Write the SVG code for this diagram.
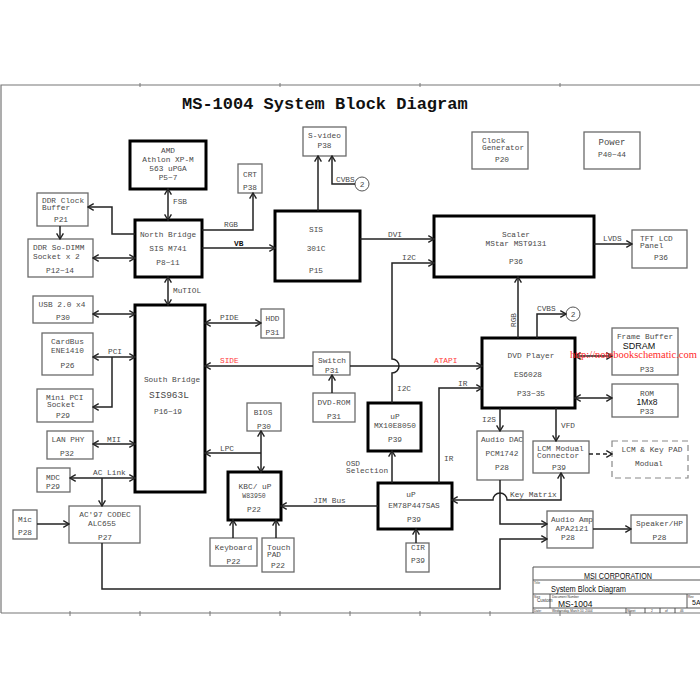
<svg xmlns="http://www.w3.org/2000/svg" width="700" height="700" viewBox="0 0 700 700">
<defs>
<style>
.b{fill:#fff;stroke:#6a6a6a;stroke-width:1.3}
.k{fill:#fff;stroke:#000;stroke-width:3}
.d{fill:#fff;stroke:#888;stroke-width:1.2;stroke-dasharray:6 4}
text{font-family:"Liberation Mono","DejaVu Sans Mono",monospace;font-size:7.8px;fill:#4a4a4a}
.m{text-anchor:middle}
.w{fill:none;stroke:#222;stroke-width:1.5}
.e{marker-end:url(#a)}
.s{marker-start:url(#a)}
.r{fill:#ff3b3b}
.ar{font-family:"Liberation Sans",Arial,sans-serif;fill:#111}
.tb{fill:none;stroke:#555;stroke-width:1}
.tiny{font-family:"Liberation Sans",Arial,sans-serif;font-size:3.2px;fill:#333}
</style>
<marker id="a" viewBox="0 0 8 8" refX="7.2" refY="4" markerWidth="8" markerHeight="8" markerUnits="userSpaceOnUse" orient="auto-start-reverse"><path d="M1.5,0.6 L7.2,4 L1.5,7.4" fill="none" stroke="#222" stroke-width="1.4"/></marker>
</defs>
<rect width="700" height="700" fill="#fff"/>
<g id="frame">
<path d="M1,613 V85 H702 M1,613 H702" fill="none" stroke="#777" stroke-width="1.2"/>
<path d="M140,83 V87 M280,83 V87 M420,83 V87 M560,83 V87 M70,611 V616 M140,611 V616 M210,611 V616 M280,611 V616 M350,611 V616 M420,611 V616 M490,611 V616 M560,611 V616 M630,611 V616" stroke="#777" stroke-width="1"/>
<text x="182" y="109" style="font-size:17px;font-weight:bold;fill:#111">MS-1004 System Block Diagram</text>
</g>

<g id="n-amd"><rect class="k" x="130" y="141" width="76" height="48"/><text class="m" x="168" y="153">AMD</text><text class="m" x="168" y="162">Athlon XP-M</text><text class="m" x="168" y="171">563 uPGA</text><text class="m" x="168" y="180">P5~7</text></g>
<g id="n-ddrclk"><rect class="b" x="37" y="193" width="51" height="33"/><text x="42" y="203">DDR Clock</text><text x="42" y="210">Buffer</text><text class="m" x="61" y="222">P21</text></g>
<g id="n-dimm"><rect class="b" x="28" y="239" width="65" height="38"/><text x="33" y="250">DDR So-DIMM</text><text x="33" y="259">Socket x 2</text><text class="m" x="60" y="273">P12~14</text></g>
<g id="n-nb"><rect class="k" x="135" y="220" width="67" height="57"/><text class="m" x="168" y="237">North Bridge</text><text class="m" x="168" y="251">SIS M741</text><text class="m" x="168" y="265">P8~11</text></g>
<g id="n-crt"><rect class="b" x="238" y="164" width="24" height="29"/><text class="m" x="250" y="177">CRT</text><text class="m" x="250" y="190">P38</text></g>
<g id="n-svideo"><rect class="b" x="303" y="127" width="43" height="29"/><text class="m" x="324.5" y="138">S-video</text><text class="m" x="324.5" y="148">P38</text></g>
<g id="n-sis"><rect class="k" x="275" y="211" width="85" height="70"/><text class="m" x="316" y="232">SIS</text><text class="m" x="316" y="251">301C</text><text class="m" x="316" y="273">P15</text></g>
<g id="n-clkgen"><rect class="b" x="472" y="132" width="56" height="37"/><text x="482" y="143">Clock</text><text x="482" y="150">Generator</text><text class="m" x="502" y="162">P20</text></g>
<g id="n-power"><rect class="b" x="584" y="132" width="56" height="37"/><text class="m" x="612" y="145" style="font-size:9px">Power</text><text class="m" x="612" y="157">P40~44</text></g>
<g id="n-scaler"><rect class="k" x="434" y="216" width="160" height="61"/><text class="m" x="516" y="237">Scaler</text><text class="m" x="516" y="246">MStar MST9131</text><text class="m" x="516" y="264">P36</text></g>
<g id="n-tft"><rect class="b" x="632" y="230" width="55" height="38"/><text x="640" y="241">TFT LCD</text><text x="640" y="248">Panel</text><text class="m" x="661" y="260">P36</text></g>
<g id="n-usb"><rect class="b" x="33" y="296" width="60" height="27"/><text class="m" x="62" y="307">USB 2.0 x4</text><text class="m" x="63" y="320">P30</text></g>
<g id="n-sb"><rect class="k" x="135" y="305" width="70" height="187"/><text class="m" x="172" y="382">South Bridge</text><text class="m" x="169" y="398" style="font-size:9.5px">SIS963L</text><text class="m" x="168" y="414">P16~19</text></g>
<g id="n-cardbus"><rect class="b" x="42" y="333" width="51" height="42"/><text class="m" x="67.5" y="344">CardBus</text><text class="m" x="67.5" y="353">ENE1410</text><text class="m" x="67.5" y="368">P26</text></g>
<g id="n-minipci"><rect class="b" x="37" y="389" width="56" height="33"/><text x="46" y="400">Mini PCI</text><text x="47" y="407">Socket</text><text class="m" x="63" y="418">P29</text></g>
<g id="n-lan"><rect class="b" x="47" y="431" width="46" height="28"/><text class="m" x="68" y="442">LAN PHY</text><text class="m" x="67" y="456">P32</text></g>
<g id="n-mdc"><rect class="b" x="37" y="468" width="33" height="24"/><text class="m" x="53" y="480">MDC</text><text class="m" x="53" y="489">P29</text></g>
<g id="n-hdd"><rect class="b" x="261" y="309" width="23" height="29"/><text class="m" x="272.5" y="321">HDD</text><text class="m" x="272.5" y="335">P31</text></g>
<g id="n-switch"><rect class="b" x="313" y="352" width="37" height="23"/><text class="m" x="332" y="363">Switch</text><text class="m" x="332" y="373">P31</text></g>
<g id="n-dvdrom"><rect class="b" x="313" y="393" width="42" height="29"/><text class="m" x="334" y="405">DVD-ROM</text><text class="m" x="334" y="419">P31</text></g>
<g id="n-bios"><rect class="b" x="247" y="403" width="34" height="28"/><text class="m" x="263" y="415">BIOS</text><text class="m" x="264" y="429">P30</text></g>
<g id="n-mx10"><rect class="k" x="368" y="403" width="53" height="48"/><text class="m" x="395" y="419">uP</text><text class="m" x="395" y="428">MX10E8050</text><text class="m" x="395" y="442">P39</text></g>
<g id="n-dvd"><rect class="k" x="482" y="338" width="93" height="70"/><text class="m" x="531" y="358">DVD Player</text><text class="m" x="528" y="377">ES6028</text><text class="m" x="531" y="396">P33~35</text></g>
<g id="n-fb"><rect class="b" x="612" y="328" width="66" height="47"/><text class="m" x="645" y="339">Frame Buffer</text><text class="m ar" x="639" y="348.5" style="font-size:9px">SDRAM</text><text class="m" x="647" y="372">P33</text></g>
<g id="n-rom"><rect class="b" x="612" y="384" width="66" height="33"/><text class="m" x="647" y="396">ROM</text><text class="m ar" x="647" y="405" style="font-size:8.5px">1Mx8</text><text class="m" x="647" y="414">P33</text></g>
<g id="n-dac"><rect class="b" x="477" y="431" width="46" height="49"/><text class="m" x="502" y="442">Audio DAC</text><text class="m" x="502" y="456">PCM1742</text><text class="m" x="502" y="470">P28</text></g>
<g id="n-lcmconn"><rect class="b" x="533" y="441" width="56" height="32"/><text x="537" y="451">LCM Modual</text><text x="537" y="458">Connector</text><text class="m" x="559" y="470">P39</text></g>
<g id="n-lcmkey"><rect class="d" x="612" y="441" width="76" height="37"/><text class="m" x="652" y="452">LCM &amp; Key PAD</text><text class="m" x="649" y="466">Modual</text></g>
<g id="n-kbc"><rect class="k" x="228" y="472" width="53" height="48"/><text class="m" x="255" y="489">KBC/ uP</text><text class="m" x="254" y="498" style="font-size:6.5px">W83950</text><text class="m" x="254" y="512">P22</text></g>
<g id="n-em78"><rect class="k" x="378" y="483" width="74" height="46"/><text class="m" x="411" y="497">uP</text><text class="m" x="414" y="508">EM78P447SAS</text><text class="m" x="414" y="522">P39</text></g>
<g id="n-kbd"><rect class="b" x="210" y="538" width="47" height="28"/><text class="m" x="233.5" y="550">Keyboard</text><text class="m" x="233.5" y="564">P22</text></g>
<g id="n-touch"><rect class="b" x="262" y="538" width="32" height="34"/><text x="267" y="550">Touch</text><text x="267" y="557">PAD</text><text class="m" x="278" y="568">P22</text></g>
<g id="n-cir"><rect class="b" x="406" y="543" width="23" height="29"/><text class="m" x="418" y="550">CIR</text><text class="m" x="418" y="563">P39</text></g>
<g id="n-ac97"><rect class="b" x="69" y="506" width="71" height="37"/><text class="m" x="105" y="517">AC'97 CODEC</text><text class="m" x="102" y="526">ALC655</text><text class="m" x="105" y="540">P27</text></g>
<g id="n-mic"><rect class="b" x="13" y="510" width="24" height="29"/><text class="m" x="25" y="522">Mic</text><text class="m" x="25" y="535">P28</text></g>
<g id="n-amp"><rect class="b" x="547" y="511" width="46" height="37"/><text class="m" x="572" y="522">Audio Amp</text><text class="m" x="572" y="531">APA2121</text><text class="m" x="568" y="540">P28</text></g>
<g id="n-spk"><rect class="b" x="631" y="515" width="56" height="28"/><text class="m" x="659.5" y="526">Speaker/HP</text><text class="m" x="659.5" y="540">P28</text></g>
<g id="n-off1"><circle cx="362" cy="184" r="7" fill="#fff" stroke="#555" stroke-width="1"/><text class="m" x="362" y="187">2</text></g>
<g id="n-off2"><circle cx="573" cy="314" r="7" fill="#fff" stroke="#555" stroke-width="1"/><text class="m" x="573" y="317">2</text></g>

<g id="connectors">
<path class="w e s" d="M168,189 V220"/>
<path class="w e" d="M135,234 H112 V207 H88"/>
<path class="w e" d="M60,226 V239"/>
<path class="w e s" d="M93,258 H135"/>
<path class="w e s" d="M168,277 V305"/>
<path class="w e" d="M202,230 H253 V193"/>
<path class="w e" d="M202,248 H275"/>
<path class="w e" d="M318,211 V156"/>
<path class="w e" d="M355,184 H332 V156"/>
<path class="w e" d="M360,239 H434"/>
<path class="w e" d="M392,403 V373 A7,7 0 0 0 392,359 V263 H434"/>
<path class="w e" d="M594,244 H632"/>
<path class="w e" d="M518,338 V277"/>
<path class="w e" d="M537,338 V314 H566"/>
<path class="w e s" d="M93,314 H135"/>
<path class="w e s" d="M93,357 H135"/>
<path class="w e" d="M112,357 V407 H93"/>
<path class="w e s" d="M93,444 H135"/>
<path class="w e s" d="M70,478 H135"/>
<path class="w e" d="M102,478 V506"/>
<path class="w e s" d="M205,323 H261"/>
<path class="w s" d="M205,366 H313"/>
<path class="w e" d="M350,366 H482"/>
<path class="w e" d="M332,393 V375"/>
<path class="w e" d="M261,453 H205"/>
<path class="w e s" d="M261,431 V472"/>
<path class="w e" d="M439,483 V388 H482"/>
<path class="w e" d="M392,483 V451"/>
<path class="w e s" d="M575,356 H612"/>
<path class="w e s" d="M575,398 H612"/>
<path class="w e" d="M500,408 V431"/>
<path class="w e" d="M556,408 V441"/>
<path class="w e" d="M589,454 H612" stroke-dasharray="4 3"/>
<path class="w e s" d="M452,500 H493 A7,7 0 0 1 507,500 H561 V473"/>
<path class="w e" d="M500,480 V524 H547"/>
<path class="w e" d="M102,543 V589 H500 V539 H547"/>
<path class="w e" d="M593,529 H631"/>
<path class="w e" d="M37,524 H69"/>
<path class="w e" d="M233,538 V520"/>
<path class="w e" d="M276,538 V520"/>
<path class="w e" d="M416,543 V529"/>
<path class="w e" d="M378,506 H281"/>
</g>

<g id="labels">
<text x="173" y="204">FSB</text>
<text x="173" y="293">MuTIOL</text>
<text x="224" y="227">RGB</text>
<text x="234" y="245.5" style="font-weight:bold;fill:#111">VB</text>
<text x="336" y="182">CVBS</text>
<text x="388" y="237">DVI</text>
<text x="402" y="260">I2C</text>
<text x="603" y="241">LVDS</text>
<text class="m" transform="translate(516,320) rotate(-90)">RGB</text>
<text x="537" y="311">CVBS</text>
<text x="108" y="354">PCI</text>
<text x="107" y="442">MII</text>
<text x="93" y="475">AC Link</text>
<text x="220" y="320">PIDE</text>
<text class="r" x="220" y="363">SIDE</text>
<text class="r" x="434" y="363">ATAPI</text>
<text x="220" y="451">LPC</text>
<text x="397" y="391">I2C</text>
<text x="458" y="386">IR</text>
<text x="444" y="461">IR</text>
<text x="346" y="466">OSD</text>
<text x="346" y="473">Selection</text>
<text x="482" y="422">I2S</text>
<text x="561" y="428">VFD</text>
<text x="510" y="496.5">Key Matrix</text>
<text x="313" y="503">JIM Bus</text>
</g>

<g id="titleblock">
<path class="tb" d="M533,613 V567 H702 M533,580 H702 M533,594 H702 M533,608 H702 M550,594 V608 M687,594 V608 M626,608 V613 M645,608 V613 M660,608 V613 M675,608 V613"/>
<text class="m ar" x="618" y="579" style="font-size:8.5px" textLength="68" lengthAdjust="spacingAndGlyphs">MSI CORPORATION</text>
<text class="tiny" x="534" y="584">Title</text>
<text class="ar" x="551" y="592" style="font-size:8.5px" textLength="75" lengthAdjust="spacingAndGlyphs">System Block Diagram</text>
<text class="tiny" x="534" y="597.5">Size</text>
<text class="tiny" x="537" y="602" style="font-size:4.5px">Custom</text>
<text class="tiny" x="552" y="597.5">Document Number</text>
<text class="ar" x="558" y="606.5" style="font-size:8.5px">MS-1004</text>
<text class="tiny" x="688" y="597.5">Rev</text>
<text class="ar" x="692" y="605" style="font-size:7px">5A</text>
<text class="tiny" x="534" y="611.8">Date:</text>
<text class="tiny" x="552" y="611.8">Wednesday, March 10, 2004</text>
<text class="tiny" x="627" y="611.8">Sheet</text>
<text class="tiny" x="651" y="611.8">2</text>
<text class="tiny" x="665" y="611.8">of</text>
<text class="tiny" x="680" y="611.8">46</text>
</g>

<text x="570" y="358" style="font-family:'Liberation Serif',serif;font-size:10.5px;fill:#ff2a2a">http://notebookschematic.com</text>
</svg>
